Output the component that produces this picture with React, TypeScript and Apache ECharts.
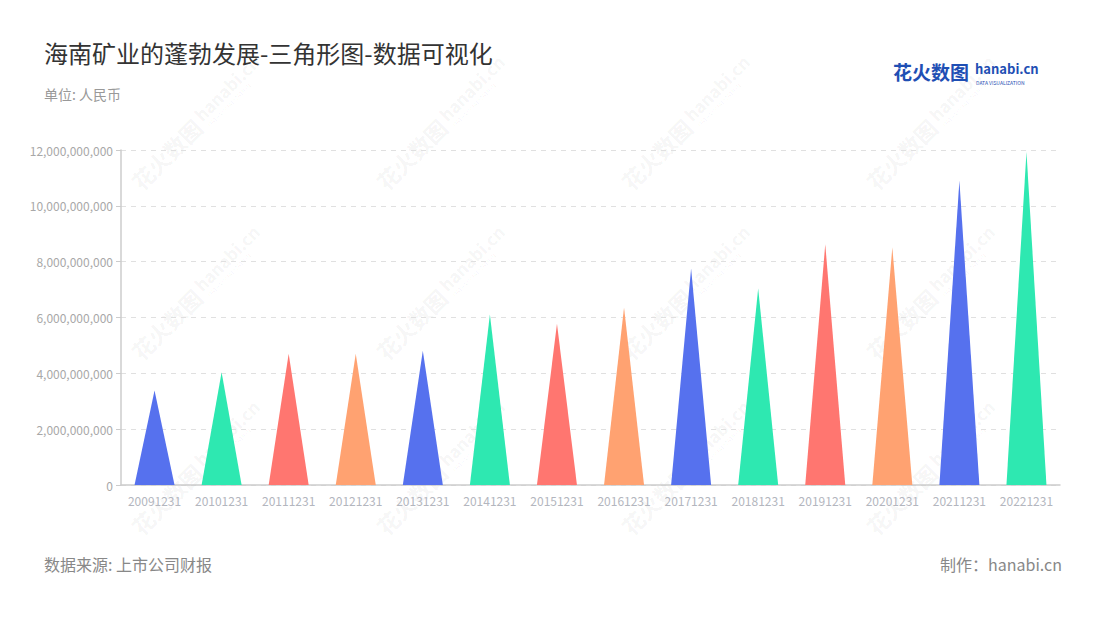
import React, { useEffect, useRef } from "react";
import * as echarts from "echarts";

const categories = [
  "20091231", "20101231", "20111231", "20121231", "20131231", "20141231", "20151231",
  "20161231", "20171231", "20181231", "20191231", "20201231", "20211231", "20221231",
];
const values = [
  3.38e9, 4.04e9, 4.7e9, 4.7e9, 4.81e9, 6.11e9, 5.77e9,
  6.36e9, 7.75e9, 7.04e9, 8.62e9, 8.51e9, 10.9e9, 11.93e9,
];
const palette = ["#5671EE", "#2EE8B1", "#FF7670", "#FFA271"];
const titleText = "海南矿业的蓬勃发展-三角形图-数据可视化";
const unitText = "单位: 人民币";
const sourceText = "数据来源: 上市公司财报";
const makerText = "制作：hanabi.cn";

const FONT = "'Noto Sans CJK SC', 'Noto Sans', sans-serif";
const WM = "rgba(0,0,0,0.055)";

function watermark(x: number, y: number) {
  return {
    type: "group",
    x,
    y,
    rotation: Math.PI / 4,
    silent: true,
    z: 100,
    children: [
      {
        type: "text",
        x: 0,
        y: 0,
        style: { text: "花火数图", font: `bold 22px ${FONT}`, fill: WM, textVerticalAlign: "middle" },
      },
      {
        type: "text",
        x: 92,
        y: -4,
        style: { text: "hanabi.cn", font: `bold 17px ${FONT}`, fill: WM, textVerticalAlign: "middle" },
      },
      {
        type: "text",
        x: 94,
        y: 10,
        style: { text: "DATA VISUALIZATION", font: `6px ${FONT}`, fill: WM, textVerticalAlign: "middle" },
      },
    ],
  };
}

export default function App() {
  const ref = useRef<HTMLDivElement>(null);
  useEffect(() => {
    if (!ref.current) return;
    const chart = echarts.init(ref.current, null, { renderer: "svg" });
    const wmCols = [135, 380, 625, 870];
    const wmRows = [185, 355, 530];
    const wms: any[] = [];
    wmCols.forEach((x) => wmRows.forEach((y) => wms.push(watermark(x, y))));
    chart.setOption({
      animation: false,
      backgroundColor: "#ffffff",
      textStyle: { fontFamily: FONT },
      grid: { left: 121, right: 40, top: 150, bottom: 135, containLabel: false },
      xAxis: {
        type: "category",
        data: categories,
        axisLine: { lineStyle: { color: "#cccccc", width: 1.5 } },
        axisTick: { alignWithLabel: true, lineStyle: { color: "#bbbbbb" } },
        axisLabel: { color: "#b3b6be", fontSize: 12, margin: 9, interval: 0 },
      },
      yAxis: {
        type: "value",
        min: 0,
        max: 12e9,
        interval: 2e9,
        axisLine: { show: true, lineStyle: { color: "#cccccc", width: 1.5 } },
        axisTick: { show: true, length: 5, lineStyle: { color: "#cccccc" } },
        axisLabel: {
          color: "#a8a8a8",
          fontSize: 12,
          margin: 8,
          formatter: (v: number) => v.toLocaleString("en-US"),
        },
        splitLine: { lineStyle: { color: "#e0e0e0", type: [5, 5] } },
      },
      series: [
        {
          type: "pictorialBar",
          symbol: "triangle",
          symbolSize: [40, "100%"],
          barCategoryGap: "0%",
          data: values.map((v, i) => ({
            value: v,
            itemStyle: { color: palette[i % palette.length] },
          })),
        },
      ],
      graphic: [
        ...wms,
        {
          type: "text",
          left: 44,
          top: 40,
          style: { text: titleText, font: `24px ${FONT}`, fill: "#333333" },
        },
        {
          type: "text",
          left: 44,
          top: 87,
          style: { text: unitText, font: `14px ${FONT}`, fill: "#999999" },
        },
        {
          type: "text",
          left: 44,
          top: 556,
          style: { text: sourceText, font: `16px ${FONT}`, fill: "#888888" },
        },
        {
          type: "text",
          right: 38,
          top: 556,
          style: { text: makerText, font: `16px ${FONT}`, fill: "#888888" },
        },
        {
          type: "text",
          left: 893,
          top: 62,
          style: { text: "花火数图", font: `bold 19px ${FONT}`, fill: "#1f4fb4" },
        },
        {
          type: "text",
          left: 975,
          top: 62,
          style: { text: "hanabi.cn", font: `bold 13px ${FONT}`, fill: "#1f4fb4" },
        },
        {
          type: "text",
          left: 976,
          top: 80,
          style: { text: "DATA VISUALIZATION", font: `5px ${FONT}`, fill: "#1f4fb4" },
        },
      ],
    });
    return () => chart.dispose();
  }, []);
  return (
    <div
      ref={ref}
      style={{ position: "fixed", left: 0, top: 0, width: 1100, height: 620 }}
    />
  );
}
